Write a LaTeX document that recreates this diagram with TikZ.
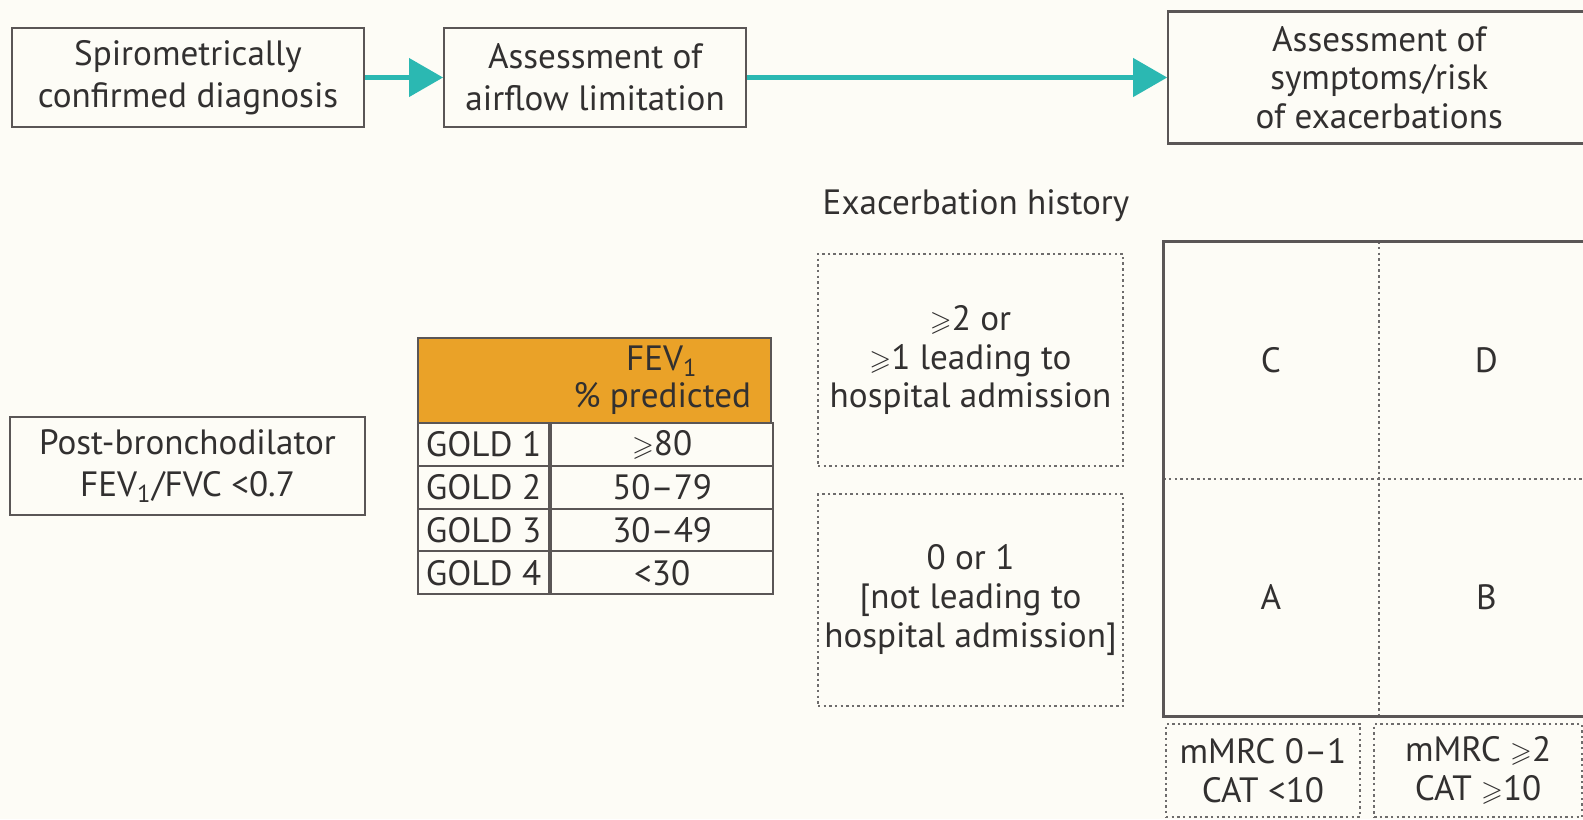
\documentclass[tikz,border=0pt]{standalone}
\usepackage{amssymb}
\usepackage{graphicx}
\usepackage{fontspec}
\setmainfont{PT Sans}
\usetikzlibrary{positioning,arrows.meta}
\definecolor{arrcol}{RGB}{43,184,178}
\definecolor{goldcol}{RGB}{234,162,40}
\definecolor{lncol}{RGB}{90,86,86}
\definecolor{dotcol}{RGB}{110,108,108}
\definecolor{txtcol}{RGB}{50,48,48}
\definecolor{bgcol}{RGB}{253,252,246}
\tikzset{
  box/.style    ={draw=lncol, line width=0.6pt, align=center, text=txtcol,
                  inner sep=0pt, font=\fontsize{10}{12}\selectfont},
  dotbox/.style ={box, draw=dotcol, dash pattern=on 0.7pt off 0.9pt,
                  font=\fontsize{10}{11}\selectfont},
  cell/.style   ={box, minimum height=4.275mm, font=\fontsize{10}{11}\selectfont},
  quad/.style   ={text=txtcol, inner sep=0pt, minimum width=21.4mm,
                  minimum height=23.6mm, font=\fontsize{10}{11}\selectfont},
  txt/.style    ={text=txtcol, inner sep=0pt, align=center, font=\fontsize{10}{11}\selectfont},
  dotline/.style={draw=dotcol, line width=0.6pt, dash pattern=on 0.7pt off 0.9pt},
  fl/.style     ={-{Triangle[length=3.4mm,width=3.8mm]}, line width=1.2pt, draw=arrcol}
}
\newcommand{\fevone}{FEV\textsubscript{1}}
\newcommand{\geqs}{\scalebox{0.8}{$\geqslant$}}

\begin{document}
\begin{tikzpicture}[node distance=6mm]
  \fill[bgcol] (0,0) rectangle (15.83,-8.19);
  \useasboundingbox (0,0) rectangle (15.83,-8.19);
  \clip (0,0) rectangle (15.83,-8.19);

  \node[box, minimum width=35.2mm, minimum height=9.9mm](spiro) at (1.88,-0.775){Spirometrically\\confirmed diagnosis};
  \node[box, minimum width=30.2mm, minimum height=9.9mm, right=7.8mm of spiro](airflow){Assessment of\\airflow limitation};
  \node[box, minimum width=42.2mm, minimum height=13.2mm, right=42mm of airflow,
        font=\fontsize{10}{11}\selectfont](symp){Assessment of\\symptoms/risk\\of exacerbations};

  \node[box, minimum width=35.5mm, minimum height=9.8mm](post) at (1.875,-4.66){Post-bronchodilator\\\fevone/FVC <0.7};

  % GOLD grades
  \node[box, fill=goldcol, minimum width=35.3mm, minimum height=8.5mm, anchor=north west](hdr) at (4.17,-3.37){};
  \foreach \i/\v in {1/{\geqs80},2/50--79,3/30--49,4/{<30}}{
    \node[cell, minimum width=13.1mm, anchor=north west](g\i) at (4.17,{-4.22-0.4275*(\i-1)}){GOLD \i};
    \node[cell, minimum width=22.2mm, right=0pt of g\i](v\i){\v};
  }
  \node[txt, font=\fontsize{10}{10.5}\selectfont](fev) at (v1 |- hdr){\fevone\\\% predicted};

  % exacerbation history
  \node[dotbox, minimum width=30.5mm, minimum height=21.2mm](hi) at (9.705,-3.6){\geqs2 or\\\geqs1 leading to\\hospital admission};
  \node[dotbox, minimum width=30.5mm, minimum height=21.2mm, below=2.6mm of hi](lo){0 or 1\\{}[not leading to\\hospital admission]};
  \node[txt, above right=4.7mm and 0.5mm of hi.north west, anchor=west](exh){Exacerbation history};

  % ABCD grid
  \node[quad](qc) at (12.71,-3.6){C};
  \node[quad, right=0pt of qc](qd){D};
  \node[quad, below=0pt of qc](qa){A};
  \node[quad, right=0pt of qa](qb){B};
  \draw[dotline](qc.north east)--(qa.south east);
  \draw[dotline](qc.south west)--(qd.south east);
  \draw[lncol, line width=0.8pt](qc.north west) rectangle (qb.south east);

  \node[dotbox, minimum width=19.4mm, minimum height=9.3mm](mlo) at (12.63,-7.705){mMRC 0--1\\CAT <10};
  \node[dotbox, minimum width=20.8mm, minimum height=9.3mm, right=1.2mm of mlo](mhi){mMRC \geqs2\\CAT \geqs10};

  \draw[fl](spiro)--(airflow);
  \draw[fl](airflow.east)--(airflow.east -| symp.west);
\end{tikzpicture}
\end{document}
